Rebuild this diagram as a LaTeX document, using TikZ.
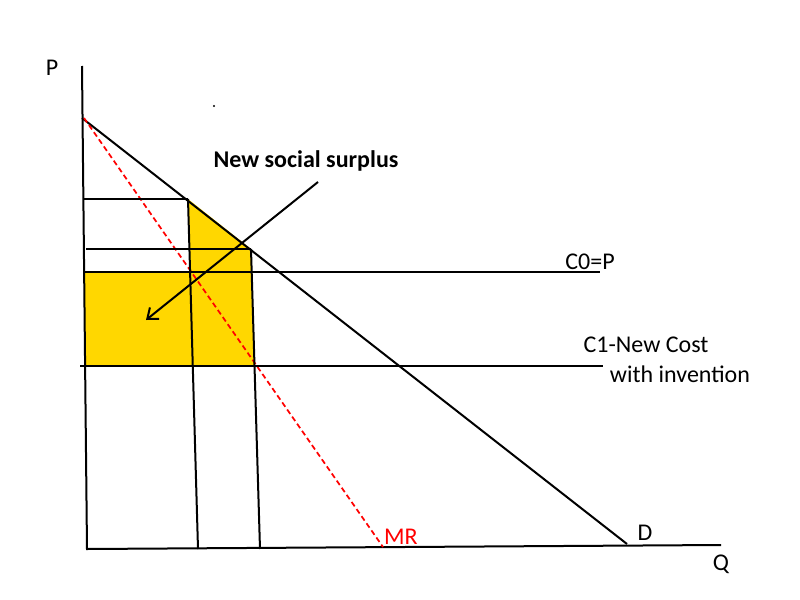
\documentclass[tikz,border=0pt]{standalone}
\usepackage{fontspec}
\setmainfont{Carlito}
\usetikzlibrary{arrows.meta}
\definecolor{surplus}{RGB}{255,215,0}
\tikzset{
  ln/.style={line width=1.5pt, black},
  mrline/.style={line width=1.3pt, red, dash pattern=on 4pt off 2.5pt},
  lbl/.style={font=\fontsize{18}{21}\selectfont, inner sep=0pt},
}
\begin{document}
\begin{tikzpicture}[x=0.75pt,y=-0.75pt]
\useasboundingbox (0,0) rectangle (800,600);
% key points
\coordinate (ytop) at (82,66);
\coordinate (orig) at (87,549);
\coordinate (xend) at (721,545);
\coordinate (dtop) at (82,118);
\coordinate (dbot) at (627,544);
\coordinate (mrtop) at (84,118);
\coordinate (mrbot) at (383,547);
\coordinate (a) at (188,199);
\coordinate (b) at (251,249);
\coordinate (c) at (255,366);
\coordinate (d) at (85,366);
\coordinate (e) at (84,272);
\coordinate (f) at (190,272);
% yellow area
\fill[surplus] (a) -- (b) -- (c) -- (d) -- (e) -- (f) -- cycle;
% axes
\draw[ln] (ytop) -- (orig) -- (xend);
% demand
\draw[ln] (dtop) -- (dbot);
% MR
\draw[mrline] (mrtop) -- (mrbot);
% horizontal lines
\coordinate (h1l) at (84,199);
\coordinate (h2l) at (86,249);
\coordinate (c0l) at (84,272);
\coordinate (c0r) at (600,272);
\coordinate (c1l) at (80,366);
\coordinate (c1r) at (603,366);
\draw[ln] (h1l) -- (a);
\draw[ln] (h2l) -- (b);
\draw[ln] (c0l) -- (c0r);
\draw[ln] (c1l) -- (c1r);
% verticals
\coordinate (v1b) at (198,549);
\coordinate (v2b) at (260,549);
\draw[ln] (a) -- (v1b);
\draw[ln] (b) -- (v2b);
% labels
\node[lbl] (P) at (52,68) {P};
\node[lbl] (Q) at (721,564) {Q};
\node[lbl] (D) at (645,533) {D};
\node[lbl, text=red] (MR) at (401,537) {MR};
\node[lbl] (C0) at (590,262) {C0=P};
\node[lbl] (C1) at (646,345) {C1-New Cost};
\node[lbl] (C1b) at (680,374) {with invention};
\node[lbl, font=\fontsize{18}{21}\selectfont\bfseries] (nss) at (306,161) {New social surplus};
% arrow
\coordinate (arrs) at (318,182);
\coordinate (arre) at (146,320);
\draw[ln, -{Straight Barb[length=7pt,width=11pt]}] (arrs) -- (arre);
% stray dot
\fill (214,106) circle (0.9pt);
\end{tikzpicture}
\end{document}
